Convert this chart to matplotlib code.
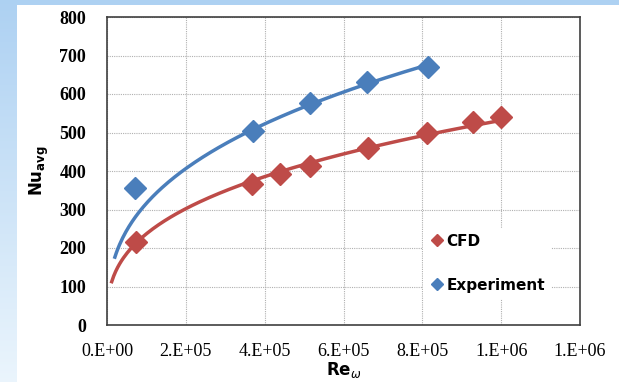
import numpy as np
import matplotlib
matplotlib.use("Agg")
import matplotlib.pyplot as plt
import matplotlib.patches as mpatches
from matplotlib.lines import Line2D

# data
re_cfd = [7.3e4, 3.68e5, 4.4e5, 5.14e5, 6.61e5, 8.13e5, 9.28e5, 1.0e6]
nu_cfd = [216, 365, 391, 414, 461, 498, 526, 540]
re_exp = [7.1e4, 3.7e5, 5.14e5, 6.6e5, 8.14e5]
nu_exp = [355, 505, 576, 630, 671]

yticks = [0, 100, 200, 300, 400, 500, 600, 700, 800]
xticks = [0, 2e5, 4e5, 6e5, 8e5, 1e6, 1.2e6]
xticklabels = ["0.E+00", "2.E+05", "4.E+05", "6.E+05", "8.E+05", "1.E+06", "1.E+06"]

C_CFD = "#be4b48"
C_EXP = "#4a7ebb"

fig = plt.figure(figsize=(6.19, 3.82), dpi=100)

# light blue frame with gradient down the left side
bg = fig.add_axes([0, 0, 1, 1])
grad = np.linspace(0, 1, 256).reshape(-1, 1)
top = np.array([0.68, 0.82, 0.95])
bot = np.array([0.92, 0.96, 0.99])
img = top + (bot - top) * grad[:, :, None]
bg.imshow(img, aspect="auto", extent=[0, 1, 0, 1], origin="upper")
bg.add_patch(mpatches.Rectangle((17 / 619, 0), 1, 1 - 5 / 382,
                                facecolor="white", edgecolor="none"))
bg.set_xlim(0, 1)
bg.set_ylim(0, 1)
bg.axis("off")

ax = fig.add_axes([107 / 619, 1 - 325 / 382, 473 / 619, 308 / 382])


def power_fit(x, y):
    b, a = np.polyfit(np.log(x), np.log(y), 1)
    return np.exp(a), b


# (values, fit subset start, trendline start)
series = [(re_cfd, nu_cfd, C_CFD, 0, 1.2e4),
          (re_exp, nu_exp, C_EXP, 1, 2.0e4)]
for re, nu, c, k, x0 in series:
    a, b = power_fit(re[k:], nu[k:])
    xs = np.linspace(x0, max(re), 200)
    ax.plot(xs, a * xs ** b, color=c, lw=2.5, zorder=2)
    ax.plot(re, nu, "D", color=c, ms=11, mec=c, zorder=3)

ax.set_xlim(0, 1.2e6)
ax.set_ylim(0, 800)
ax.set_xticks(xticks)
ax.set_xticklabels(xticklabels, family="Liberation Serif", fontsize=13)
ax.set_yticks(yticks)
ax.set_yticklabels([str(v) for v in yticks], family="Liberation Serif",
                   fontsize=13, fontweight="bold")
ax.tick_params(axis="x", length=0, pad=13)
ax.tick_params(axis="y", length=0, pad=15)
ax.grid(True, color="#b0b0b0", ls=(0, (1, 1)), lw=0.8)
ax.set_axisbelow(True)
for s in ax.spines.values():
    s.set_color("#404040")
    s.set_linewidth(1.2)

ax.set_xlabel(r"Re$_{\omega}$", fontsize=12, fontweight="bold", labelpad=0)
ax.set_ylabel(r"Nu$_{\mathregular{avg}}$", fontsize=12, fontweight="bold", labelpad=6)

handles = [Line2D([], [], ls="none", marker="D", color=C_CFD, ms=6),
           Line2D([], [], ls="none", marker="D", color=C_EXP, ms=6)]
leg = ax.legend(handles, ["CFD", "Experiment"], loc="lower right",
                bbox_to_anchor=(0.955, 0.06), frameon=True, framealpha=1,
                edgecolor="none", handletextpad=0.1, handlelength=1.0,
                labelspacing=1.9, prop={"family": "DejaVu Sans", "weight": "bold", "size": 11})

fig.savefig("out.png", dpi=100)
